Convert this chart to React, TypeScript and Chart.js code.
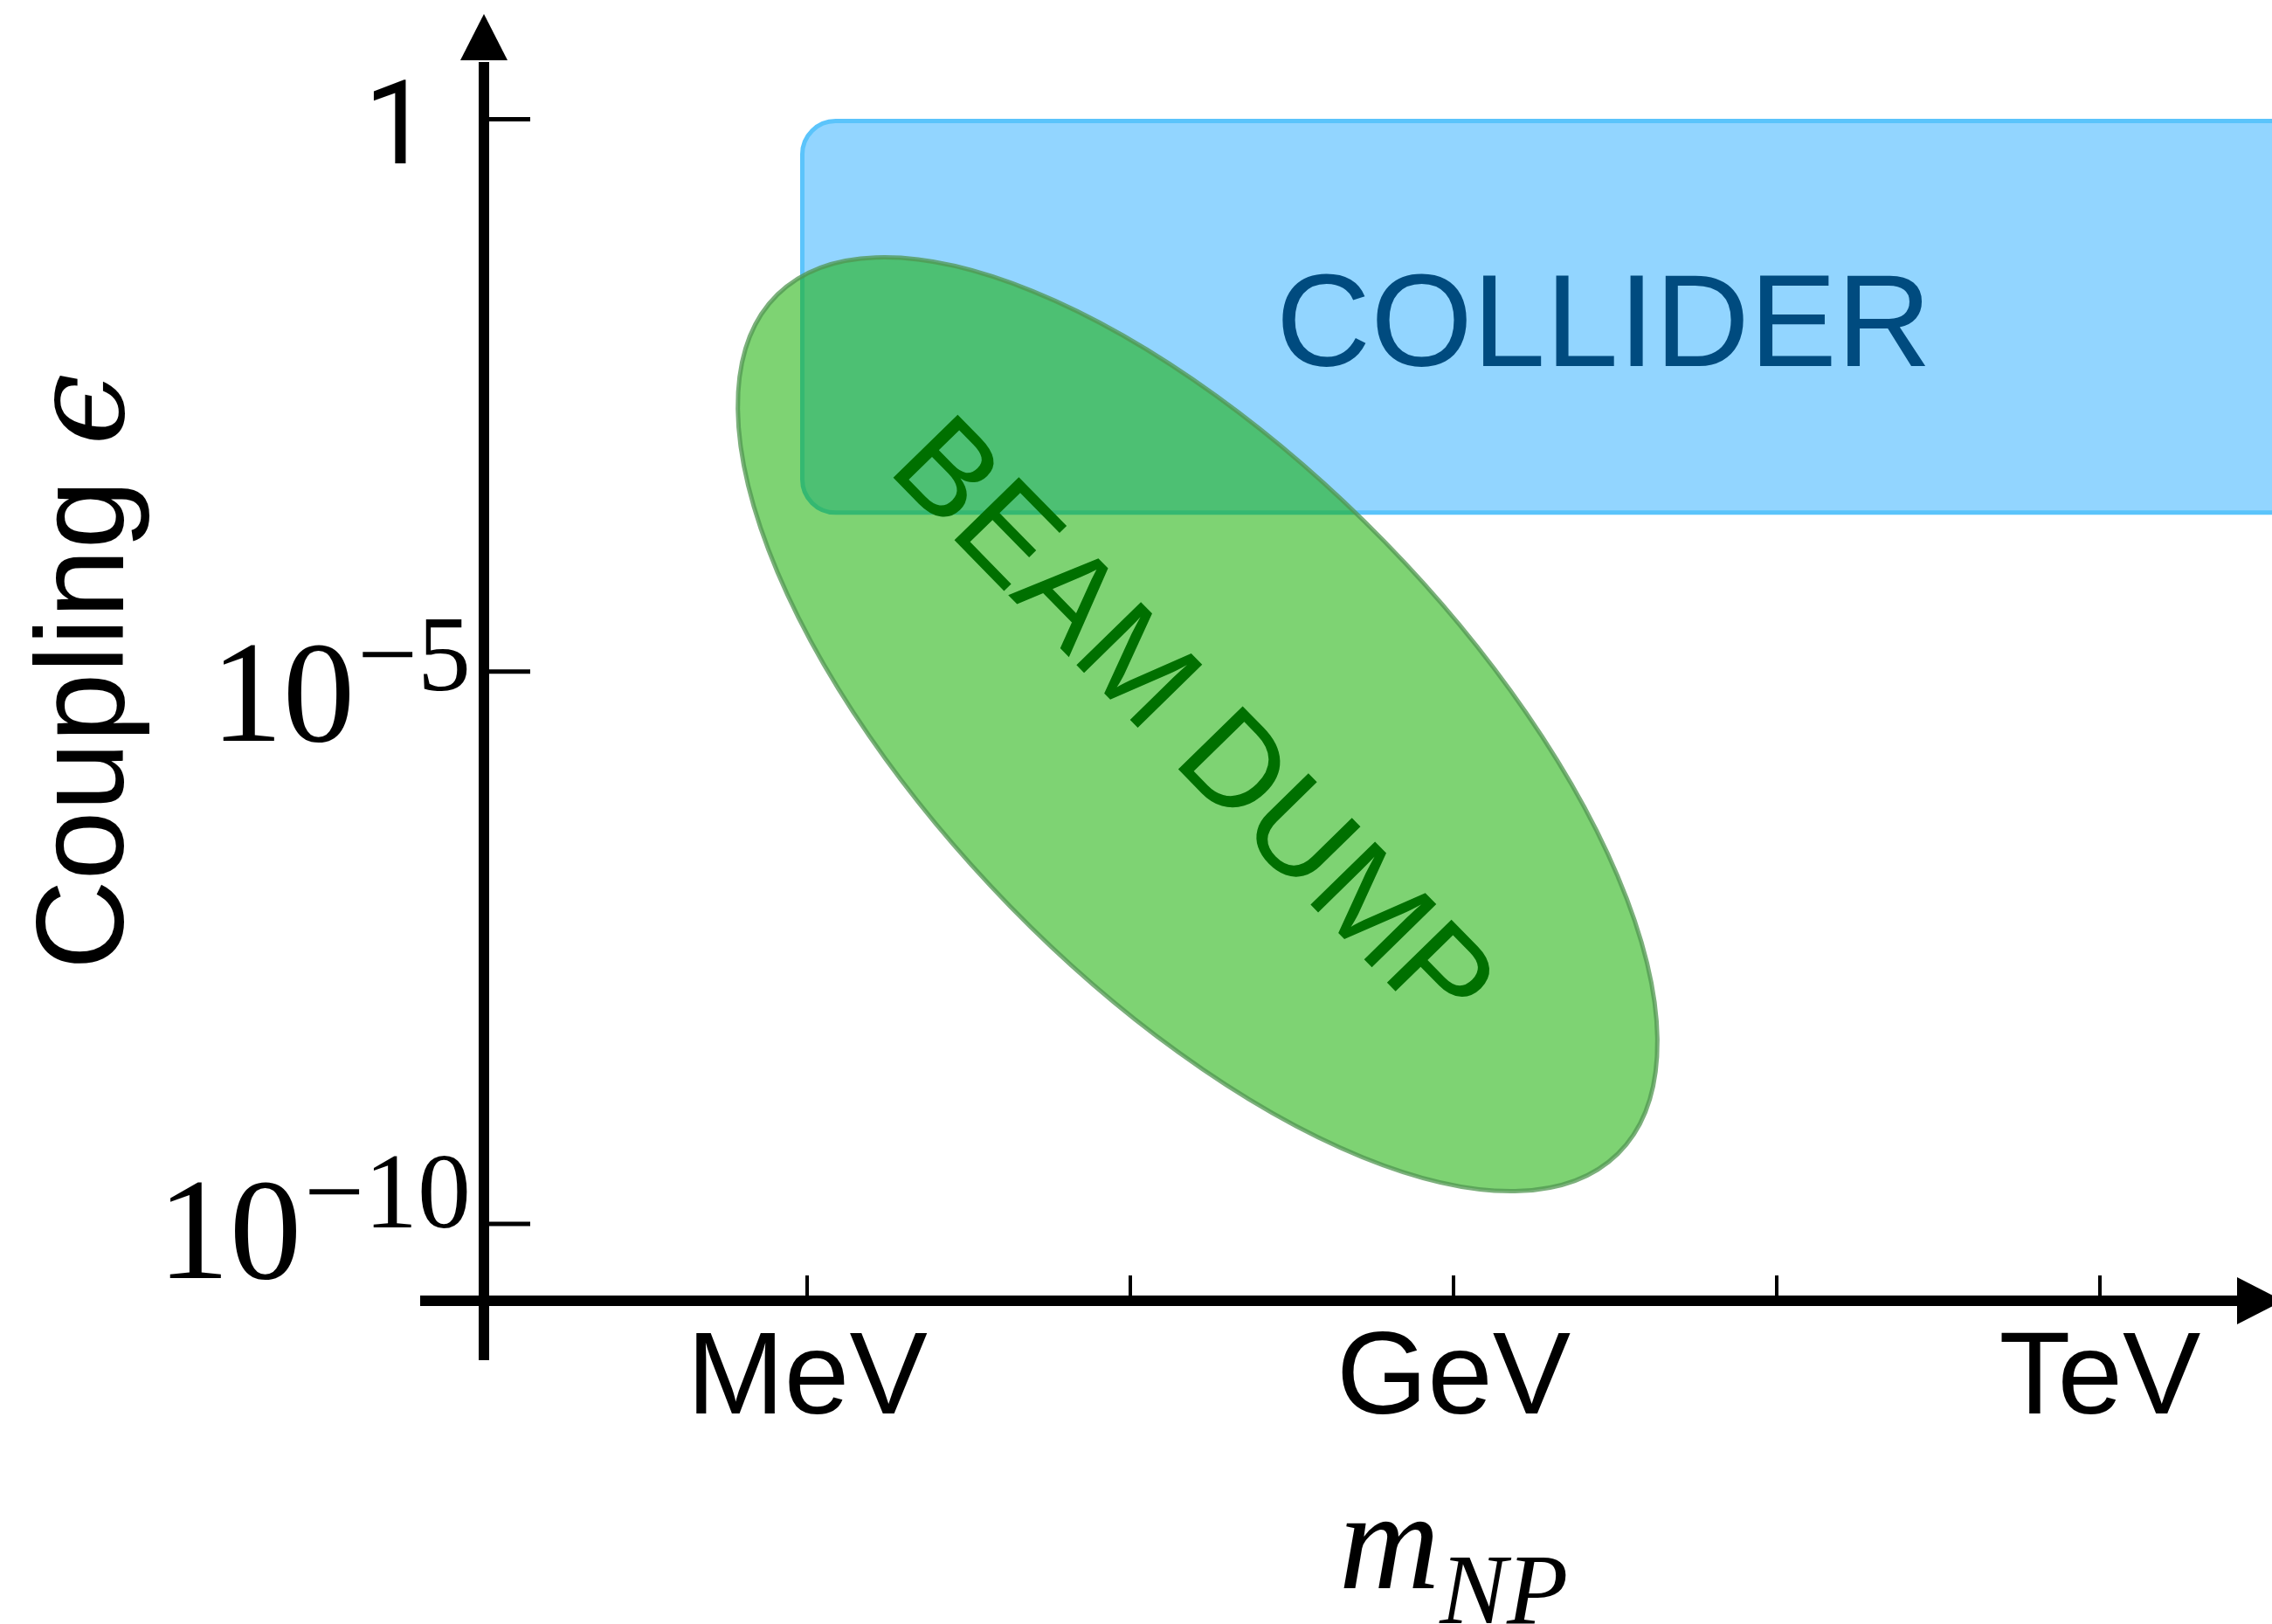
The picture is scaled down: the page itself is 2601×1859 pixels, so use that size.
import React, { useEffect, useRef } from 'react';
import { Chart, registerables } from 'chart.js';

Chart.register(...registerables);

// ---- data (log-log) ----
const massTicks = [1e6, 3.1623e7, 1e9, 3.1623e10, 1e12]; // eV
const massTickLabels = ['MeV', '', 'GeV', '', 'TeV'];
const couplingTicks = [1, 1e-5, 1e-10];
const couplingTickBases = ['1', '10', '10'];
const couplingTickExponents = ['', '−5', '−10'];
const massRange = [3.1623e4, 6.29e12];
const couplingRange = [2.014e-11, 8.99];

// COLLIDER region: mass [min, max], coupling [min, max]
const colliderMass = [9.5e5, 1e14];
const colliderCoupling = [2.75e-4, 1];
const colliderLabelPoint = [4.98e9, 5.84e-3];

// BEAM DUMP ellipse: centre, end of major axis, end of minor axis
const beamDumpMass = [6.49e7, 5.78e9, 4.79e8];
const beamDumpCoupling = [3.34e-6, 4.3e-10, 1.5e-4];
const beamDumpLabelPoint = [2.317e6, 6.69e-4];

// ---- style ----
const SANS = '"Liberation Sans", Arial, Helvetica, sans-serif';
const SERIF = '"Liberation Serif", "Times New Roman", serif';
const couplingLabelBaselineOffset = [50, 79, 62];

const sketchPlugin = {
  id: 'sketch',
  beforeDatasetsDraw(chart: any) {
    const ctx: CanvasRenderingContext2D = chart.ctx;
    const xs = chart.scales.x;
    const ys = chart.scales.y;
    const px = (v: number) => xs.getPixelForValue(v);
    const py = (v: number) => ys.getPixelForValue(v);
    const area = chart.chartArea;

    ctx.save();
    // collider box
    const cd = chart.data.datasets[0].data;
    const bx0 = px(cd[0].x);
    const bx1 = px(cd[1].x);
    const by0 = py(cd[1].y) + 2;
    const by1 = py(cd[0].y);
    ctx.beginPath();
    (ctx as any).roundRect(bx0, by0, bx1 - bx0, by1 - by0, 38);
    ctx.fillStyle = 'rgb(146,213,255)';
    ctx.fill();
    ctx.lineWidth = 5;
    ctx.strokeStyle = 'rgb(91,196,251)';
    ctx.stroke();

    ctx.fillStyle = 'rgb(0,75,127)';
    ctx.font = `150px ${SANS}`;
    ctx.textAlign = 'center';
    ctx.textBaseline = 'alphabetic';
    ctx.fillText('COLLIDER', px(colliderLabelPoint[0]), py(colliderLabelPoint[1]));

    // beam dump ellipse
    const ed = chart.data.datasets[1].data;
    const cx = px(ed[0].x), cy = py(ed[0].y);
    const ax = px(ed[1].x), ay = py(ed[1].y);
    const mx = px(ed[2].x), my = py(ed[2].y);
    const a = Math.hypot(ax - cx, ay - cy);
    const b = Math.hypot(mx - cx, my - cy);
    const rot = Math.atan2(ay - cy, ax - cx);
    ctx.beginPath();
    ctx.ellipse(cx, cy, a, b, rot, 0, Math.PI * 2);
    ctx.fillStyle = 'rgba(20,175,0,0.55)';
    ctx.fill();
    ctx.lineWidth = 5;
    ctx.strokeStyle = 'rgba(80,150,80,0.75)';
    ctx.stroke();

    ctx.save();
    ctx.translate(px(beamDumpLabelPoint[0]), py(beamDumpLabelPoint[1]));
    ctx.rotate(rot);
    ctx.fillStyle = 'rgb(0,112,0)';
    ctx.font = `150px ${SANS}`;
    ctx.textAlign = 'left';
    ctx.fillText('BEAM DUMP', 0, 0);
    ctx.restore();

    // axes
    const ox = area.left;
    const oy = area.bottom;
    ctx.fillStyle = '#000';
    ctx.strokeStyle = '#000';
    ctx.lineCap = 'butt';
    ctx.lineWidth = 12;
    ctx.beginPath();
    ctx.moveTo(ox, oy + 68);
    ctx.lineTo(ox, area.top + 55);
    ctx.stroke();
    ctx.beginPath();
    ctx.moveTo(ox, area.top);
    ctx.lineTo(ox - 27, area.top + 53);
    ctx.lineTo(ox + 27, area.top + 53);
    ctx.closePath();
    ctx.fill();

    ctx.beginPath();
    ctx.moveTo(ox - 73, oy);
    ctx.lineTo(area.right - 38, oy);
    ctx.stroke();
    ctx.beginPath();
    ctx.moveTo(area.right + 13, oy);
    ctx.lineTo(area.right - 40, oy - 27);
    ctx.lineTo(area.right - 40, oy + 27);
    ctx.closePath();
    ctx.fill();

    // ticks
    ctx.lineWidth = 4;
    massTicks.forEach((m) => {
      const x = px(m);
      ctx.beginPath();
      ctx.moveTo(x, oy - 29);
      ctx.lineTo(x, oy - 5);
      ctx.stroke();
    });
    ctx.lineWidth = 5;
    couplingTicks.forEach((c) => {
      const y = py(c);
      ctx.beginPath();
      ctx.moveTo(ox + 5, y);
      ctx.lineTo(ox + 53, y);
      ctx.stroke();
    });

    // mass tick labels
    ctx.font = `134px ${SANS}`;
    ctx.textAlign = 'center';
    ctx.textBaseline = 'alphabetic';
    massTicks.forEach((m, i) => {
      if (massTickLabels[i]) ctx.fillText(massTickLabels[i], px(m), oy + 129);
    });

    // coupling tick labels
    couplingTicks.forEach((c, i) => {
      const y = py(c);
      const base = couplingTickBases[i];
      const exp = couplingTickExponents[i];
      const baseY = y + couplingLabelBaselineOffset[i];
      if (!exp) {
        ctx.font = `134px Roboto, ${SANS}`;
        ctx.textAlign = 'right';
        ctx.fillText(base, ox - 62, baseY);
        return;
      }
      ctx.textAlign = 'left';
      ctx.font = `165px ${SERIF}`;
      const wb = ctx.measureText(base).width;
      ctx.font = `122px ${SERIF}`;
      const we = ctx.measureText(exp).width;
      const right = ox - 15;
      const start = right - (wb + 3 + we);
      ctx.font = `165px ${SERIF}`;
      ctx.fillText(base, start, baseY);
      ctx.font = `122px ${SERIF}`;
      ctx.fillText(exp, start + wb + 3, baseY - 58);
    });

    // y-axis title
    ctx.save();
    ctx.translate(141, 1110);
    ctx.rotate(-Math.PI / 2);
    ctx.textAlign = 'left';
    ctx.font = `142px ${SANS}`;
    const t1 = 'Coupling ';
    ctx.fillText(t1, 0, 0);
    const w1 = ctx.measureText(t1).width;
    ctx.font = `italic 148px "DejaVu Serif", ${SERIF}`;
    ctx.fillText('ϵ', w1, 0);
    ctx.restore();

    // x-axis title
    ctx.textAlign = 'left';
    ctx.font = `italic 160px ${SERIF}`;
    const wm = ctx.measureText('m').width;
    ctx.font = `italic 115px ${SERIF}`;
    const wnp = ctx.measureText('NP').width;
    const cxTitle = px(1e9);
    const sx = cxTitle - (wm + wnp) / 2;
    ctx.font = `italic 160px ${SERIF}`;
    ctx.fillText('m', sx, oy + 329);
    ctx.font = `italic 115px ${SERIF}`;
    ctx.fillText('NP', sx + wm, oy + 369);

    ctx.restore();
  },
};

export default function App() {
  const ref = useRef<HTMLCanvasElement | null>(null);
  useEffect(() => {
    if (!ref.current) return;
    const chart = new Chart(ref.current, {
      type: 'scatter',
      data: {
        datasets: [
          {
            label: 'COLLIDER',
            data: colliderMass.map((m, i) => ({ x: m, y: colliderCoupling[i] })),
            pointRadius: 0,
            showLine: false,
          },
          {
            label: 'BEAM DUMP',
            data: beamDumpMass.map((m, i) => ({ x: m, y: beamDumpCoupling[i] })),
            pointRadius: 0,
            showLine: false,
          },
        ],
      },
      options: {
        animation: false,
        responsive: false,
        devicePixelRatio: 1,
        layout: { padding: { left: 554, top: 16, right: 0, bottom: 370 } },
        plugins: { legend: { display: false }, tooltip: { enabled: false } },
        events: [],
        scales: {
          x: {
            type: 'logarithmic',
            display: false,
            bounds: 'data',
            min: massRange[0],
            max: massRange[1],
          },
          y: {
            type: 'logarithmic',
            display: false,
            bounds: 'data',
            min: couplingRange[0],
            max: couplingRange[1],
          },
        },
      },
      plugins: [sketchPlugin],
    } as any);
    return () => chart.destroy();
  }, []);
  return (
    <div style={{ position: 'absolute', left: 0, top: 0, width: 2601, height: 1859, background: '#fff' }}>
      <canvas ref={ref} width={2601} height={1859} style={{ display: 'block' }} />
    </div>
  );
}
